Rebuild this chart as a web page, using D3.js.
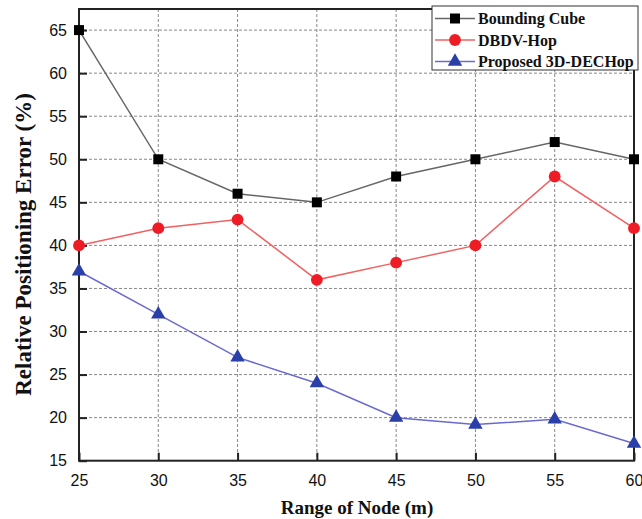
<!DOCTYPE html>
<html><head><meta charset="utf-8">
<script src="https://cdn.jsdelivr.net/npm/d3@7"></script>
<style>body{margin:0;background:#fff}svg{display:block}</style>
</head><body><svg id="c" width="642" height="519"></svg>
<script>
const ranges = [25, 30, 35, 40, 45, 50, 55, 60];
const boundingCube = [65, 50, 46, 45, 48, 50, 52, 50];
const dbdvHop = [40, 42, 43, 36, 38, 40, 48, 42];
const proposed = [37, 32, 27, 24, 20, 19.2, 19.8, 17];
const xTicks = [25, 30, 35, 40, 45, 50, 55, 60];
const yTicks = [15, 20, 25, 30, 35, 40, 45, 50, 55, 60, 65];
const seriesNames = ["Bounding Cube", "DBDV-Hop", "Proposed 3D-DECHop"];

const svg = d3.select("#c");
const L = 79, R = 634, T = 9, B = 460.7;
const x = d3.scaleLinear().domain([25, 60]).range([L, R]);
const y = d3.scaleLinear().domain([15, 67.45]).range([B, T]);

// grid
const g = svg.append("g");
g.selectAll(".gx").data(xTicks.slice(1, -1)).join("line")
  .attr("x1", d => x(d)).attr("x2", d => x(d)).attr("y1", T).attr("y2", B)
  .attr("stroke", "#888").attr("stroke-width", 1).attr("stroke-dasharray", "3,2");
g.selectAll(".gy").data(yTicks.slice(1)).join("line")
  .attr("x1", L).attr("x2", R).attr("y1", d => y(d)).attr("y2", d => y(d))
  .attr("stroke", "#888").attr("stroke-width", 1).attr("stroke-dasharray", "3,2");

// axes
const xAxis = d3.axisBottom(x).tickValues(xTicks).tickSize(-8).tickPadding(12).tickFormat(d3.format("d"));
const yAxis = d3.axisLeft(y).tickValues(yTicks).tickSize(-8).tickPadding(12).tickFormat(d3.format("d"));
const ax = svg.append("g").attr("transform", `translate(0,${B})`).call(xAxis);
const ay = svg.append("g").attr("transform", `translate(${L},0)`).call(yAxis);
[ax, ay].forEach(a => {
  a.select(".domain").remove();
  a.selectAll(".tick line").attr("stroke", "#222").attr("stroke-width", 2);
  a.selectAll(".tick text").attr("font-family", "Liberation Sans, Arial, sans-serif").attr("font-size", 16).attr("fill", "#111");
});
ax.selectAll(".tick text").attr("dy", "0.85em");
// frame
svg.append("rect").attr("x", L).attr("y", T).attr("width", R - L).attr("height", B - T)
  .attr("fill", "none").attr("stroke", "#222").attr("stroke-width", 2);

// series
const series = [
  {name: seriesNames[0], vals: boundingCube, line: "#666", fill: "#000", shape: d3.symbolSquare, size: 100},
  {name: seriesNames[1], vals: dbdvHop, line: "#f26060", fill: "#ee1c24", shape: d3.symbolCircle, size: 110},
  {name: seriesNames[2], vals: proposed, line: "#6a6ad0", fill: "#2b3fa8", shape: d3.symbolTriangle, size: 90}
];
const line = d3.line().x(d => x(d[0])).y(d => y(d[1]));
series.forEach(s => {
  const pts = ranges.map((r, i) => [r, s.vals[i]]);
  svg.append("path").datum(pts).attr("d", line).attr("fill", "none").attr("stroke", s.line).attr("stroke-width", 1.5);
  svg.append("g").selectAll("path").data(pts).join("path")
    .attr("transform", d => `translate(${x(d[0])},${y(d[1])})`)
    .attr("d", d3.symbol().type(s.shape).size(s.size)).attr("fill", s.fill);
});

// legend
const lg = svg.append("g");
lg.append("rect").attr("x", 432).attr("y", 6).attr("width", 206).attr("height", 64)
  .attr("fill", "#fff").attr("stroke", "#333").attr("stroke-width", 1);
series.forEach((s, i) => {
  const yy = 18.5 + i * 21.5;
  lg.append("line").attr("x1", 435).attr("x2", 475).attr("y1", yy).attr("y2", yy).attr("stroke", s.line).attr("stroke-width", 1.5);
  lg.append("path").attr("transform", `translate(455,${yy})`).attr("d", d3.symbol().type(s.shape).size(s.size)).attr("fill", s.fill);
  lg.append("text").attr("x", 478).attr("y", yy).attr("dy", "0.35em")
    .attr("font-family", "Liberation Serif, Times New Roman, serif").attr("font-size", 16).attr("font-weight", "bold")
    .attr("fill", "#111").text(s.name);
});

// titles
svg.append("text").attr("x", 357).attr("y", 514).attr("text-anchor", "middle")
  .attr("font-family", "Liberation Serif, Times New Roman, serif").attr("font-size", 19).attr("font-weight", "bold")
  .attr("fill", "#111").text("Range of Node (m)");
svg.append("text").attr("transform", `translate(31,244.5) rotate(-90)`).attr("text-anchor", "middle")
  .attr("font-family", "Liberation Serif, Times New Roman, serif").attr("font-size", 23).attr("font-weight", "bold")
  .attr("fill", "#111").text("Relative Positioning Error (%)");
</script></body></html>
